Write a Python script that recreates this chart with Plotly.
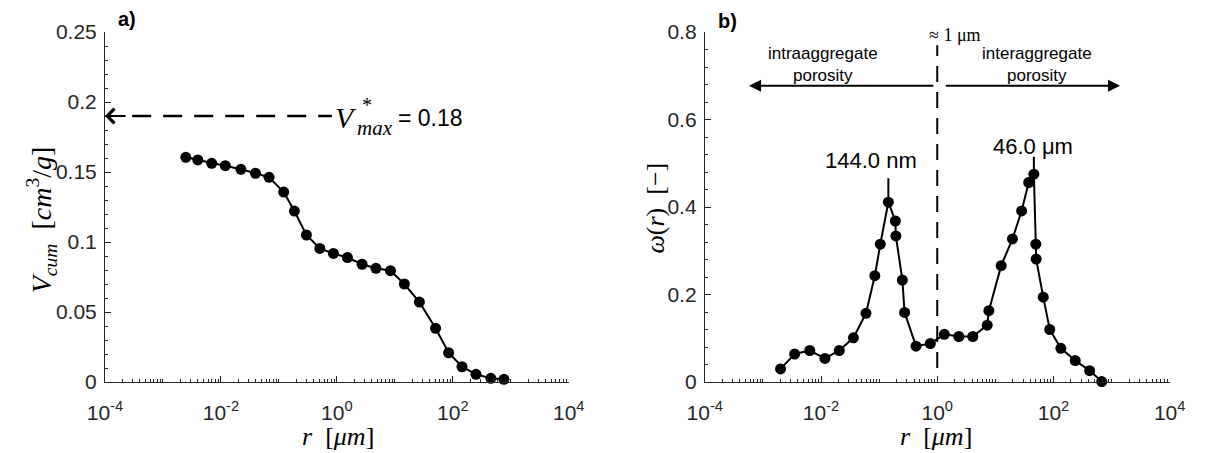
import math
import plotly.graph_objects as go

# ---------------- data ----------------
r_cum = [0.00248, 0.00399, 0.00693, 0.0119, 0.0221, 0.0394, 0.0676, 0.121, 0.185, 0.298,
         0.507, 0.871, 1.52, 2.72, 4.72, 8.41, 14.6, 26.5, 50.4, 84.7, 144, 251, 453, 762]
v_cum = [0.1605, 0.1586, 0.1562, 0.1545, 0.1519, 0.1491, 0.1462, 0.1357, 0.1221, 0.1050,
         0.0954, 0.0918, 0.0889, 0.0841, 0.0812, 0.0795, 0.0700, 0.0571, 0.0384, 0.0209,
         0.0109, 0.0055, 0.0026, 0.0019]

r_pore = [0.00201, 0.00351, 0.00640, 0.01167, 0.0206, 0.0361, 0.0593, 0.0843, 0.1047, 0.144,
          0.190, 0.194, 0.251, 0.274, 0.431, 0.760, 1.324, 2.350, 4.09, 7.24,
          7.73, 12.6, 19.7, 28.3, 37.5, 46.0, 49.7, 50.4, 66.7, 86.3,
          134, 237, 419, 678]
omega = [0.030, 0.064, 0.072, 0.054, 0.072, 0.101, 0.157, 0.243, 0.315, 0.411,
         0.368, 0.334, 0.233, 0.159, 0.082, 0.088, 0.109, 0.104, 0.104, 0.130,
         0.163, 0.266, 0.327, 0.391, 0.456, 0.475, 0.315, 0.281, 0.194, 0.120,
         0.077, 0.049, 0.026, 0.001]

x_tickvals = [1e-4, 1e-2, 1, 1e2, 1e4]
x_ticktext = ["10<sup>-4</sup>", "10<sup>-2</sup>", "10<sup>0</sup>", "10<sup>2</sup>", "10<sup>4</sup>"]
y1_tickvals = [0, 0.05, 0.1, 0.15, 0.2, 0.25]
y1_ticktext = ["0", "0.05", "0.1", "0.15", "0.2", "0.25"]
y2_tickvals = [0, 0.2, 0.4, 0.6, 0.8]
y2_ticktext = ["0", "0.2", "0.4", "0.6", "0.8"]

v_max_label = "0.18"
v_max_level = 0.19
peak1_r, peak1_w, peak1_label = 0.144, 0.411, "144.0 nm"
peak2_r, peak2_w, peak2_label = 46.0, 0.475, "46.0 \u03bcm"
split_r = 1.0

# ---------------- layout geometry ----------------
W, H = 1209, 453
T, B = 32, 71
PH = H - T - B


def px(xp):
    return xp / W


def py(yp):
    return (H - B - yp) / PH


minor_x = [k * 10.0 ** n for n in range(-4, 4) for k in range(2, 10)]
minor_x += [10.0 ** n for n in (-3, -1, 1, 3)]

AX = "#262626"
SANS = "Arial, Liberation Sans, sans-serif"
SERIF = "Liberation Serif, Times New Roman, serif"

fig = go.Figure()
fig.add_trace(go.Scatter(x=r_cum, y=v_cum, mode="lines+markers",
                         line=dict(color="black", width=2),
                         marker=dict(color="black", size=11),
                         cliponaxis=False, xaxis="x", yaxis="y", showlegend=False))
fig.add_trace(go.Scatter(x=r_pore, y=omega, mode="lines+markers",
                         line=dict(color="black", width=2),
                         marker=dict(color="black", size=11),
                         cliponaxis=False, xaxis="x2", yaxis="y2", showlegend=False))

common = dict(showline=True, linecolor=AX, linewidth=1, ticks="inside", ticklen=6,
              tickwidth=1, tickcolor=AX, showgrid=False, zeroline=False, mirror=False,
              tickfont=dict(family=SANS, size=21, color=AX))

xcommon = dict(common, type="log", range=[-4, 4], tickmode="array",
               tickvals=x_tickvals, ticktext=x_ticktext, ticklabelstandoff=12,
               minor=dict(ticks="inside", ticklen=3, tickcolor=AX, tickmode="array",
                          tickvals=minor_x))
ycommon = dict(common, ticklabelstandoff=3)

fig.update_layout(
    width=W, height=H,
    margin=dict(l=0, r=0, t=T, b=B),
    paper_bgcolor="white", plot_bgcolor="white",
    xaxis=dict(xcommon, domain=[px(89.5), px(566.7)], anchor="y"),
    yaxis=dict(ycommon, range=[0, 0.25], tickmode="array", tickvals=y1_tickvals,
               ticktext=y1_ticktext, anchor="x",
               minor=dict(ticks="inside", ticklen=3, tickcolor=AX, dtick=0.01, tick0=0)),
    xaxis2=dict(xcommon, domain=[px(706.7), px(1185)], anchor="y2"),
    yaxis2=dict(ycommon, range=[0, 0.8], tickmode="array", tickvals=y2_tickvals,
                ticktext=y2_ticktext, anchor="x2",
                minor=dict(ticks="inside", ticklen=3, tickcolor=AX, dtick=0.04, tick0=0)),
)

ann = []
# panel letters
ann.append(dict(text="<b>a)</b>", x=px(101), y=py(19), xref="paper", yref="paper",
                xanchor="left", yanchor="middle", showarrow=False,
                font=dict(family=SANS, size=20, color="black")))
ann.append(dict(text="<b>b)</b>", x=px(718), y=py(21), xref="paper", yref="paper",
                xanchor="left", yanchor="middle", showarrow=False,
                font=dict(family=SANS, size=20, color="black")))

# axis titles
ann.append(dict(text="<i>V</i><sub><i>cum</i></sub>  [<i>cm</i><sup>3</sup>/<i>g</i>]",
                x=px(24), y=py(220), xref="paper", yref="paper", textangle=-90,
                xanchor="center", yanchor="middle", showarrow=False,
                font=dict(family=SERIF, size=28, color="black")))
ann.append(dict(text="<i>\u03c9</i>(<i>r</i>)  [\u2212]",
                x=px(655), y=py(208), xref="paper", yref="paper", textangle=-90,
                xanchor="center", yanchor="middle", showarrow=False,
                font=dict(family=SERIF, size=26, color="black")))
for xc in (329, 945):
    ann.append(dict(text="<i>r</i>  [<i>\u03bcm</i>]", x=px(xc), y=py(437), xref="paper",
                    yref="paper", xanchor="center", yanchor="middle", showarrow=False,
                    font=dict(family=SERIF, size=26, color="black")))

# V*max arrow
stem_px = 22
ann.append(dict(text="", x=-4, y=v_max_level, xref="x", yref="y", ax=stem_px, ay=0,
                showarrow=True, arrowhead=4, arrowsize=1.4, arrowwidth=2,
                arrowcolor="black", standoff=0))
fig.add_shape(type="line", xref="x", yref="y",
              x0=10 ** (-4 + (stem_px + 6) / 59.65), x1=0.82,
              y0=v_max_level, y1=v_max_level,
              line=dict(color="black", width=2.5, dash="19px,12px"))
ann.append(dict(text="<i>V</i>", x=px(324), y=py(117), xref="paper", yref="paper",
                xanchor="left", yanchor="middle", showarrow=False,
                font=dict(family=SERIF, size=30, color="black")))
ann.append(dict(text="*", x=px(352), y=py(105), xref="paper", yref="paper",
                xanchor="left", yanchor="middle", showarrow=False,
                font=dict(family=SERIF, size=20, color="black")))
ann.append(dict(text="<i>max</i>", x=px(347), y=py(128), xref="paper", yref="paper",
                xanchor="left", yanchor="middle", showarrow=False,
                font=dict(family=SERIF, size=21, color="black")))
ann.append(dict(text="= " + v_max_label, x=px(389), y=py(118), xref="paper", yref="paper",
                xanchor="left", yanchor="middle", showarrow=False,
                font=dict(family=SANS, size=23, color="black")))

# right panel: split line and arrows
fig.add_shape(type="line", xref="x2", yref="y2", x0=split_r, x1=split_r, y0=0.032, y1=0.77,
              line=dict(color="black", width=2, dash="16px,10px"))
ann.append(dict(text="\u2248 1 \u03bcm", x=px(964), y=py(35), xref="paper", yref="paper",
                xanchor="center", yanchor="middle", showarrow=False,
                font=dict(family=SERIF, size=18, color="black")))
arrow_w = 0.677
ann.append(dict(text="", x=math.log10(5.77e-4), y=arrow_w, xref="x2", yref="y2",
                ax=math.log10(0.912), ay=arrow_w, axref="x2", ayref="y2",
                showarrow=True, arrowhead=2, arrowsize=1.2, arrowwidth=2,
                arrowcolor="black", standoff=0))
ann.append(dict(text="", x=math.log10(1396), y=arrow_w, xref="x2", yref="y2",
                ax=math.log10(1.324), ay=arrow_w, axref="x2", ayref="y2",
                showarrow=True, arrowhead=2, arrowsize=1.2, arrowwidth=2,
                arrowcolor="black", standoff=0))
ann.append(dict(text="intraaggregate<br>porosity", x=px(828), y=py(64), xref="paper",
                yref="paper", xanchor="center", yanchor="middle", showarrow=False,
                font=dict(family=SANS, size=17, color="black")))
ann.append(dict(text="interaggregate<br>porosity", x=px(1048), y=py(64), xref="paper",
                yref="paper", xanchor="center", yanchor="middle", showarrow=False,
                font=dict(family=SANS, size=17, color="black")))

# peak markers
fig.add_shape(type="line", xref="x2", yref="y2", x0=peak1_r, x1=peak1_r,
              y0=peak1_w, y1=peak1_w + 0.055, line=dict(color="black", width=2))
fig.add_shape(type="line", xref="x2", yref="y2", x0=peak2_r, x1=peak2_r,
              y0=peak2_w, y1=peak2_w + 0.04, line=dict(color="black", width=2))
ann.append(dict(text=peak1_label, x=px(878), y=py(160), xref="paper", yref="paper",
                xanchor="center", yanchor="middle", showarrow=False,
                font=dict(family=SANS, size=22, color="black")))
ann.append(dict(text=peak2_label, x=px(1044), y=py(146), xref="paper", yref="paper",
                xanchor="center", yanchor="middle", showarrow=False,
                font=dict(family=SANS, size=22, color="black")))

fig.update_layout(annotations=ann)
fig.write_html("out.html")
